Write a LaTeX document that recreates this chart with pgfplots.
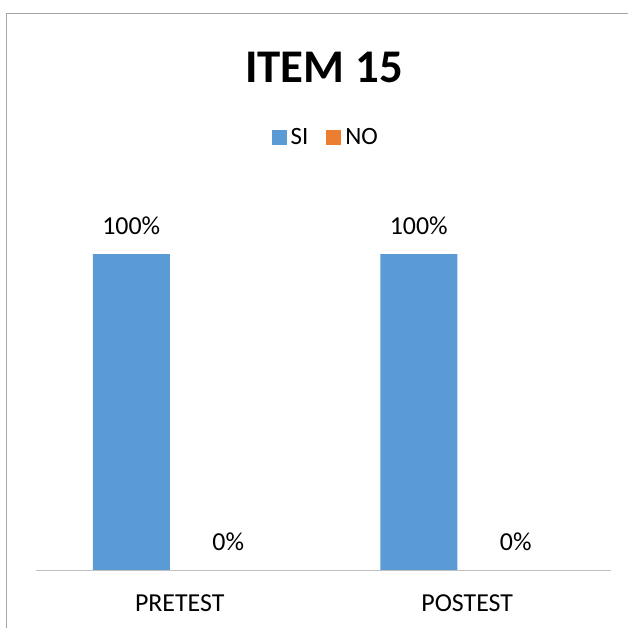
\documentclass[border=0pt]{standalone}
\usepackage{pgfplots}
\pgfplotsset{compat=1.18}
\usepackage{fontspec}
\setmainfont{Carlito}
\definecolor{siblue}{HTML}{5B9BD5}
\definecolor{noorange}{HTML}{ED7D31}
\definecolor{framegray}{HTML}{A6A6A6}
\definecolor{axisgray}{HTML}{BFBFBF}
\begin{document}
\begin{tikzpicture}
\useasboundingbox (0,0) rectangle (628bp,628bp);
% chart frame
\draw[framegray, line width=1bp] (6bp,-1bp) -- (6bp,614bp) -- (629bp,614bp);
% title
\node[font=\fontsize{47}{50}\selectfont\bfseries] at (324bp,561bp) {ITEM 15};
\begin{axis}[
  at={(36bp,58bp)}, anchor=south west,
  scale only axis, width=575bp, height=379bp,
  ybar=20bp, bar width=77bp,
  xmin=-0.5, xmax=1.5, ymin=0, ymax=120,
  xtick=data, xticklabels={PRETEST,POSTEST},
  axis x line*=bottom, axis y line=none,
  x axis line style={axisgray, line width=1bp, -},
  major tick length=0pt,
  tick label style={font=\fontsize{26}{28}\selectfont, text=black},
  xticklabel style={yshift=-21bp},
  /pgf/number format/assume math mode=true,
  nodes near coords={\pgfmathprintnumber{\pgfplotspointmeta}\%},
  every node near coord/.append style={font=\fontsize{26}{28}\selectfont, text=black, yshift=16bp},
  legend columns=2,
  legend style={at={(0.504,1.141)}, anchor=center, draw=none, fill=none,
    font=\fontsize{25}{27}\selectfont,
    /tikz/every even column/.append style={column sep=16bp}},
  legend image code/.code={\fill[#1] (0bp,-7.5bp) rectangle (15bp,7.5bp);
    \path (0bp,0bp) -- (17bp,0bp);},
]
\addplot[fill=siblue, draw=none] coordinates {(0,100) (1,100)};
\addplot[fill=noorange, draw=none] coordinates {(0,0) (1,0)};
\legend{SI,NO}
\end{axis}
\end{tikzpicture}
\end{document}
